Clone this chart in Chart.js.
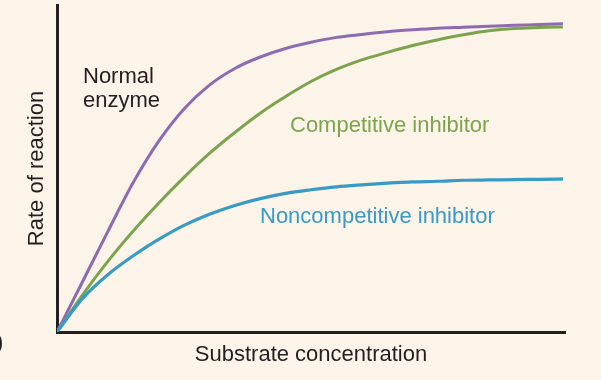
<!DOCTYPE html>
<html>
<head>
<meta charset="utf-8">
<script src="https://cdn.jsdelivr.net/npm/chart.js@4/dist/chart.umd.min.js"></script>
<style>
  html, body { margin: 0; padding: 0; background: #fcf3e9; }
  #wrap { width: 601px; height: 380px; position: relative; }
  canvas { display: block; }
</style>
</head>
<body>
<div id="wrap"><canvas id="c" width="601" height="380"></canvas></div>
<script>
// Substrate concentration (arbitrary units, 0-100) and rate of reaction (0-100)
const concentration = [0, 5, 10, 15, 20, 25, 30, 35, 40, 45, 50, 55, 60, 65, 70, 75, 80, 85, 90, 95, 99.6];
const normalRate = [0, 15.3, 30.7, 45.7, 58.3, 68.2, 75.5, 80.6, 84.1, 86.7, 88.6, 90.1, 91.0, 91.8, 92.4, 92.9, 93.2, 93.5, 93.8, 94.0, 94.3];
const competitiveRate = [0, 11.3, 21.6, 30.9, 39.4, 47.3, 54.6, 61.0, 66.9, 72.0, 76.6, 80.3, 83.2, 85.5, 87.6, 89.4, 90.9, 92.1, 92.8, 93.1, 93.3];
const noncompetitiveRate = [0, 10.2, 17.5, 23.3, 28.3, 32.6, 36.0, 38.7, 40.8, 42.4, 43.5, 44.4, 45.0, 45.5, 45.9, 46.1, 46.4, 46.5, 46.6, 46.7, 46.8];

const seriesNames = ["Normal enzyme", "Competitive inhibitor", "Noncompetitive inhibitor"];
const xAxisTitle = "Substrate concentration";
const yAxisTitle = "Rate of reaction";

const colNormal = "#8d6bb3";
const colComp = "#7ca44c";
const colNon = "#3a9ac6";
const FONT = '"Liberation Sans", Arial, sans-serif';

function pts(xs, ys) { return xs.map((x, i) => ({ x: x, y: ys[i] })); }

const labelPlugin = {
  id: 'labels',
  afterDraw(chart) {
    const ctx = chart.ctx;
    ctx.save();
    ctx.font = '22px ' + FONT;
    ctx.textBaseline = 'alphabetic';
    ctx.textAlign = 'left';
    ctx.fillStyle = '#231f20';
    ctx.fillText('Normal', 83, 83);
    ctx.fillText('enzyme', 83, 107);
    ctx.fillStyle = colComp;
    ctx.fillText(seriesNames[1], 290, 132);
    ctx.fillStyle = colNon;
    ctx.fillText(seriesNames[2], 260, 223);
    ctx.fillStyle = '#231f20';
    ctx.fillText(')', -4, 349);
    ctx.restore();
  }
};

new Chart(document.getElementById('c'), {
  type: 'line',
  data: {
    datasets: [
      { label: seriesNames[2], data: pts(concentration, noncompetitiveRate), borderColor: colNon, borderWidth: 3.2 },
      { label: seriesNames[1], data: pts(concentration, competitiveRate), borderColor: colComp, borderWidth: 3 },
      { label: seriesNames[0], data: pts(concentration, normalRate), borderColor: colNormal, borderWidth: 3 }
    ]
  },
  options: {
    responsive: false,
    animation: false,
    events: [],
    layout: { padding: { left: 0, top: 5, right: 36, bottom: 11.4 } },
    elements: {
      point: { radius: 0 },
      line: { cubicInterpolationMode: 'monotone', fill: false, borderCapStyle: 'butt' }
    },
    plugins: { legend: { display: false }, tooltip: { enabled: false } },
    scales: {
      x: {
        type: 'linear', min: 0, max: 100,
        grid: { display: false, drawTicks: false },
        ticks: { display: false },
        border: { display: true, color: '#231f20', width: 3 },
        title: { display: true, text: xAxisTitle, color: '#231f20',
                 font: { family: FONT, size: 22, lineHeight: 1.2 },
                 padding: { top: 10.2, bottom: 0 } }
      },
      y: {
        type: 'linear', min: 0, max: 100,
        grid: { display: false, drawTicks: false },
        ticks: { display: false },
        border: { display: true, color: '#231f20', width: 3 },
        title: { display: true, text: yAxisTitle, color: '#231f20',
                 font: { family: FONT, size: 22, lineHeight: 1.2 },
                 padding: { top: 24, bottom: 6.6 } }
      }
    }
  },
  plugins: [labelPlugin]
});
</script>
</body>
</html>
